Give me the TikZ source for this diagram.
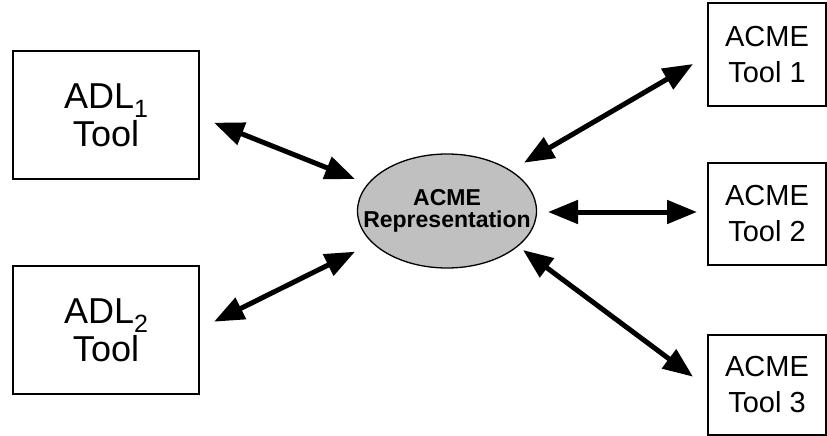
\documentclass[tikz,border=0pt]{standalone}
\usepackage{fontspec}
\setmainfont{Liberation Sans}
\usetikzlibrary{arrows.meta,shapes.geometric}
\definecolor{repgray}{RGB}{192,192,192}
\begin{document}
\begin{tikzpicture}[x=1pt,y=-1pt,
  adlbox/.style={draw,line width=1.4pt,minimum width=186pt,minimum height=128pt,
    align=center,inner sep=0pt,font=\fontsize{36}{38}\selectfont},
  acmebox/.style={draw,line width=1.4pt,minimum width=118pt,
    align=center,inner sep=0pt,font=\fontsize{29}{36}\selectfont},
  link/.style={line width=5pt,
    {Triangle[length=30pt,width=23pt]}-{Triangle[length=30pt,width=23pt]}}]
\useasboundingbox (0,0) rectangle (827,436);

% architecture description language tools
\node[adlbox] (adl1) at (106,115)
  {ADL\raisebox{-9pt}{\fontsize{25}{25}\selectfont 1}\\Tool};
\node[adlbox] (adl2) at (106,330)
  {ADL\raisebox{-9pt}{\fontsize{25}{25}\selectfont 2}\\Tool};

% shared representation (the long line is boxed narrower so the ellipse keeps its size)
\node[ellipse,draw,line width=1.3pt,fill=repgray,minimum width=179pt,
  minimum height=114pt,inner sep=0pt,align=center,
  font=\fontsize{23}{22}\selectfont\bfseries] (rep) at (447,211)
  {ACME\\\makebox[110pt]{Representation}};

% ACME tools
\node[acmebox,minimum height=103pt] (t1) at (767,54.5) {ACME\\Tool 1};
\node[acmebox,minimum height=102pt] (t2) at (767,214) {ACME\\Tool 2};
\node[acmebox,minimum height=100pt] (t3) at (767,385) {ACME\\Tool 3};

% arrow end points
\coordinate (adl1-end) at (214,122.7);
\coordinate (rep-adl1) at (355,179);
\coordinate (adl2-end) at (214,321.7);
\coordinate (rep-adl2) at (355,251.7);
\coordinate (rep-t1) at (524,162.7);
\coordinate (t1-end) at (693,64);
\coordinate (rep-t2) at (548,212);
\coordinate (t2-end) at (697,212);
\coordinate (rep-t3) at (523,250);
\coordinate (t3-end) at (693,376.7);

% two-way exchanges
\draw[link] (adl1-end) -- (rep-adl1);
\draw[link] (adl2-end) -- (rep-adl2);
\draw[link] (rep-t1) -- (t1-end);
\draw[link] (rep-t2) -- (t2-end);
\draw[link] (rep-t3) -- (t3-end);
\end{tikzpicture}
\end{document}
